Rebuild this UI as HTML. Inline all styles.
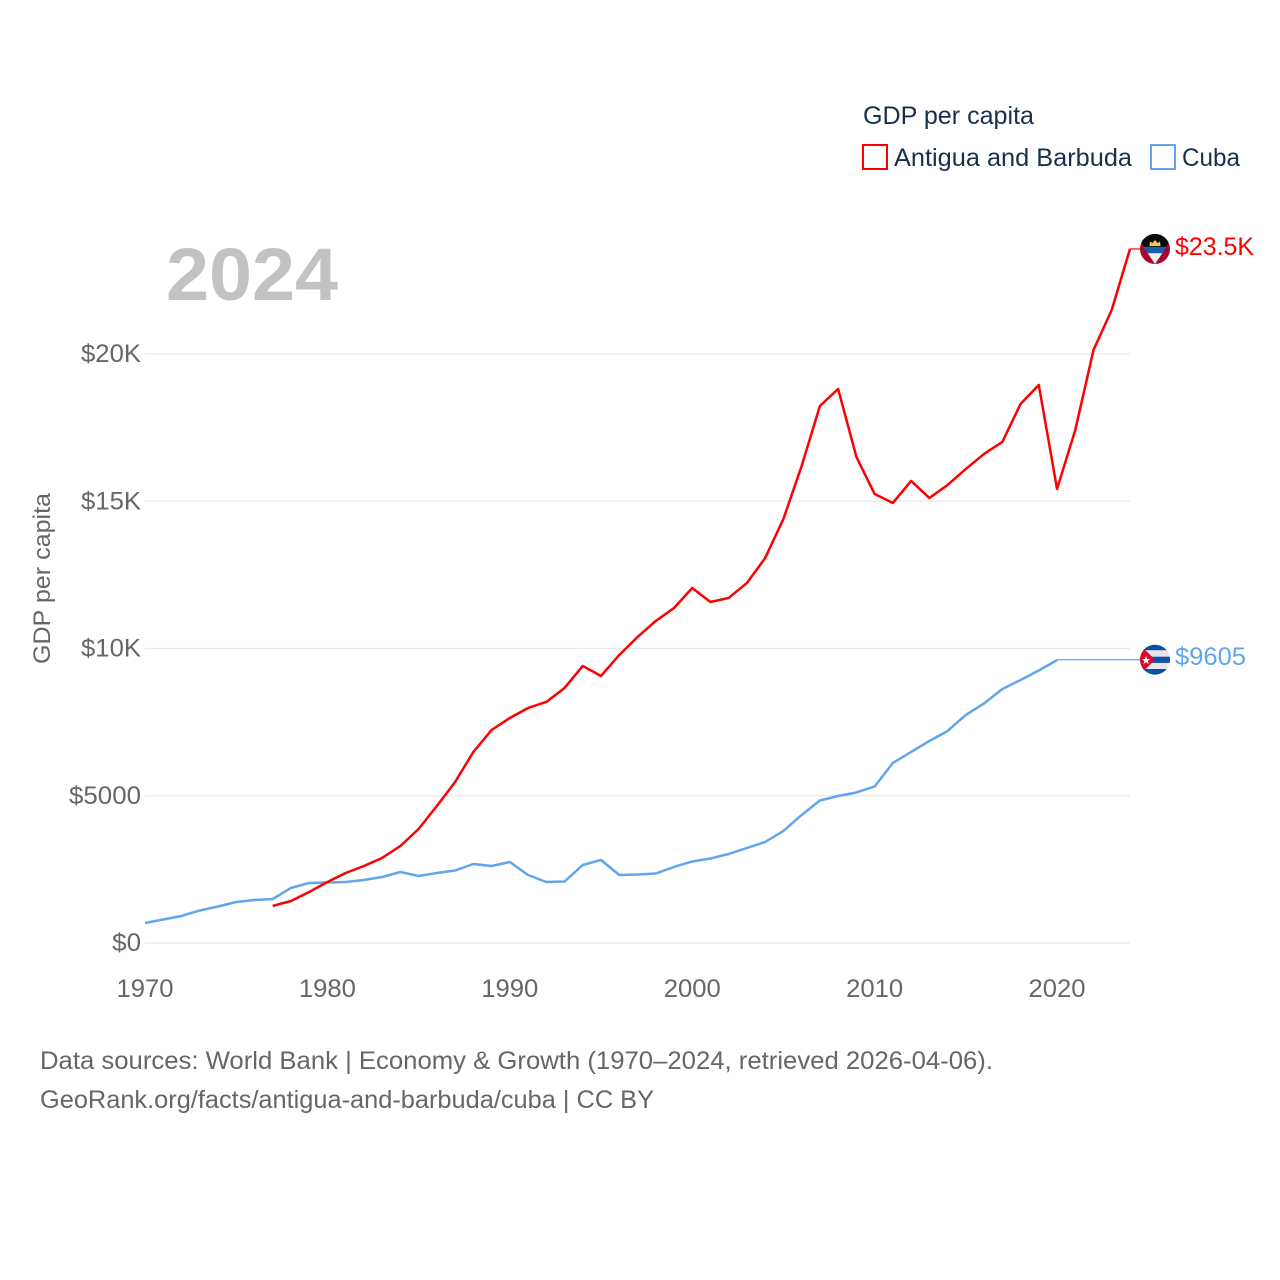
<!DOCTYPE html>
<html lang="en">
<head>
<meta charset="utf-8">
<title>GDP per capita: Antigua and Barbuda vs Cuba</title>
<style>
html,body{margin:0;padding:0;background:#fff;}
svg{display:block;}
text{font-family:"Liberation Sans",sans-serif;}
</style>
</head>
<body>
<svg id="chart" width="1280" height="1280" viewBox="0 0 1280 1280" xmlns="http://www.w3.org/2000/svg">
  <defs>
    <clipPath id="clip-ag"><circle cx="1155" cy="249" r="15"/></clipPath>
    <clipPath id="clip-cu"><circle cx="1155" cy="659.7" r="15"/></clipPath>
  </defs>
  <rect width="1280" height="1280" fill="#ffffff"/>
  <g id="grid"></g>
  <g id="yticks"></g>
  <g id="xticks"></g>
  <text transform="translate(50,664) rotate(-90)" font-size="24" fill="#666666" textLength="171" lengthAdjust="spacingAndGlyphs">GDP per capita</text>
  <text x="166" y="300" font-size="74" font-weight="700" fill="#c2c2c2" textLength="172" lengthAdjust="spacingAndGlyphs">2024</text>
  <g id="series"></g>

  <g>
    <text x="863" y="124" font-size="25" fill="#18304f" textLength="171" lengthAdjust="spacingAndGlyphs">GDP per capita</text>
    <g>
      <rect x="863" y="145" width="24" height="24" fill="none" stroke="#ff0000" stroke-width="2"/>
      <text x="894" y="166" font-size="25" fill="#18304f" textLength="238" lengthAdjust="spacingAndGlyphs">Antigua and Barbuda</text>
    </g>
    <g>
      <rect x="1151" y="145" width="24" height="24" fill="none" stroke="#60a5ee" stroke-width="2"/>
      <text x="1182" y="166" font-size="25" fill="#18304f" textLength="58" lengthAdjust="spacingAndGlyphs">Cuba</text>
    </g>
  </g>

  <g clip-path="url(#clip-ag)">
    <rect x="1140" y="234" width="30" height="30" fill="#a8062c"/>
    <polygon points="1136,234 1174,234 1155,264" fill="#0a0a0a"/>
    <polygon points="1147.5,253 1162.5,253 1155,264" fill="#eeeeee"/>
    <polygon points="1143.2,246.7 1166.8,246.7 1162.5,253.3 1147.5,253.3" fill="#1a5cb0"/>
    <path d="M1149.5,246 L1150,241.5 L1152.5,243 L1155,240 L1157.5,243 L1160,241.5 L1160.5,246 Z" fill="#f6c945"/>
  </g>
  <g clip-path="url(#clip-cu)">
    <rect x="1140" y="644" width="30" height="32" fill="#e6e6e6"/>
    <rect x="1140" y="644" width="30" height="6.2" fill="#0b50a8"/>
    <rect x="1140" y="656.7" width="30" height="6.2" fill="#0b50a8"/>
    <rect x="1140" y="669" width="30" height="6.5" fill="#0b50a8"/>
    <polygon points="1140,644.7 1155,659.7 1140,674.7" fill="#d40a2e"/>
    <text x="1146" y="664" font-size="11" fill="#ffffff" text-anchor="middle">★</text>
  </g>
  <text x="1175" y="255" font-size="25" fill="#ff0000" textLength="79" lengthAdjust="spacingAndGlyphs">$23.5K</text>
  <text x="1175" y="665" font-size="25" fill="#60a5ee" textLength="71" lengthAdjust="spacingAndGlyphs">$9605</text>

  <text x="40" y="1069" font-size="25" fill="#666666" textLength="953" lengthAdjust="spacingAndGlyphs">Data sources: World Bank | Economy &amp; Growth (1970–2024, retrieved 2026-04-06).</text>
  <text x="40" y="1108" font-size="25" fill="#666666" textLength="614" lengthAdjust="spacingAndGlyphs">GeoRank.org/facts/antigua-and-barbuda/cuba | CC BY</text>
</svg>
<script>
var yTickValues = [0, 5000, 10000, 15000, 20000];
var yTickLabels = ["$0", "$5000", "$10K", "$15K", "$20K"];
var xTickYears = [1970, 1980, 1990, 2000, 2010, 2020];
var antiguaStartYear = 1977;
var antiguaValues = [1257,1426,1732,2071,2377,2615,2887,3294,3871,4652,5467,6486,7233,7640,7980,8184,8660,9407,9067,9780,10390,10935,11376,12055,11580,11716,12225,13075,14400,16200,18235,18813,16505,15248,14942,15690,15112,15553,16097,16606,17014,18304,18950,15418,17421,20138,21497,23568];
var cubaStartYear = 1970;
var cubaValues = [679,798,917,1104,1240,1392,1460,1494,1868,2038,2055,2071,2140,2241,2411,2275,2377,2462,2683,2615,2751,2309,2071,2088,2649,2819,2309,2326,2360,2581,2768,2870,3022,3226,3430,3804,4347,4839,4992,5111,5315,6113,6486,6860,7199,7743,8133,8626,8931,9254,9605];

var NS = "http://www.w3.org/2000/svg";
function xScale(year) { return 145 + (year - 1970) * (1130 - 145) / 54; }
function yScale(value) { return 943 - value * (943 - 354) / 20000; }
function make(tag, parent, attrs) {
  var el = document.createElementNS(NS, tag);
  for (var k in attrs) { el.setAttribute(k, attrs[k]); }
  parent.appendChild(el);
  return el;
}
function linePath(startYear, values) {
  return values.map(function (v, i) {
    return (i ? "L" : "M") + xScale(startYear + i).toFixed(2) + "," + yScale(v).toFixed(2);
  }).join(" ");
}
function yLabelWidth(label) {
  return 14.4 * label.length + (label.indexOf("K") >= 0 ? 2.4 : 0);
}

var gridGroup = document.getElementById("grid");
var yGroup = document.getElementById("yticks");
var xGroup = document.getElementById("xticks");
var seriesGroup = document.getElementById("series");

yTickValues.forEach(function (v, i) {
  var gl = make("line", gridGroup, {x1: 145, x2: 1130, y1: yScale(v), y2: yScale(v), stroke: "#e9e9e9", "stroke-width": 1.2});
  
  
  var label = yTickLabels[i];
  var t = make("text", yGroup, {x: 141, y: yScale(v) + 8, "text-anchor": "end", "font-size": 25, fill: "#666666", textLength: yLabelWidth(label), lengthAdjust: "spacingAndGlyphs"});
  
  
  t.textContent = label;
});

xTickYears.forEach(function (year) {
  var t = make("text", xGroup, {x: xScale(year), y: 997, "text-anchor": "middle", "font-size": 25, fill: "#666666", textLength: 57, lengthAdjust: "spacingAndGlyphs"});
  
  
  t.textContent = String(year);
});

var cubaLastYear = cubaStartYear + cubaValues.length - 1;
var cubaLastValue = cubaValues[cubaValues.length - 1];
var cubaLeader = make("line", seriesGroup, {x1: xScale(cubaLastYear), x2: 1141, y1: yScale(cubaLastValue) - 0.4, y2: yScale(cubaLastValue) - 0.4, stroke: "#60a5ee", "stroke-width": 1.2});



var cubaLine = make("path", seriesGroup, {d: linePath(cubaStartYear, cubaValues), fill: "none", stroke: "#60a5ee", "stroke-width": 2.5, "stroke-linejoin": "round"});



var antiguaLastYear = antiguaStartYear + antiguaValues.length - 1;
var antiguaLastValue = antiguaValues[antiguaValues.length - 1];
var antiguaLeader = make("line", seriesGroup, {x1: xScale(antiguaLastYear), x2: 1141, y1: yScale(antiguaLastValue), y2: yScale(antiguaLastValue), stroke: "#ff0000", "stroke-width": 1.2});



var antiguaLine = make("path", seriesGroup, {d: linePath(antiguaStartYear, antiguaValues), fill: "none", stroke: "#ff0000", "stroke-width": 2.5, "stroke-linejoin": "round"});


</script>
</body>
</html>
